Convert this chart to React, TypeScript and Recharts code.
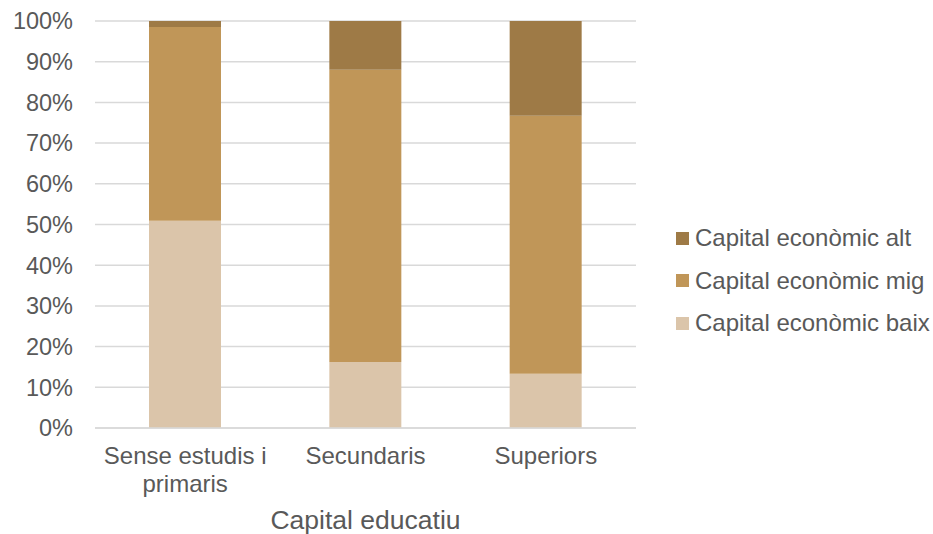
import React from "react";
import { BarChart, Bar, XAxis, YAxis, CartesianGrid } from "recharts";

const categories = ["Sense estudis i primaris", "Secundaris", "Superiors"];
const baix = [50.9, 16.2, 13.3];
const mig = [47.6, 71.8, 63.4];
const alt = [1.5, 12.0, 23.3];
const yTicks = [0, 10, 20, 30, 40, 50, 60, 70, 80, 90, 100];

const seriesNames = {
  alt: "Capital econòmic alt",
  mig: "Capital econòmic mig",
  baix: "Capital econòmic baix",
};
const colors = { alt: "#9E7A46", mig: "#C09658", baix: "#DBC5AA" };

const data = categories.map((c, i) => ({ name: c, baix: baix[i], mig: mig[i], alt: alt[i] }));

const FONT = "'Liberation Sans', Arial, sans-serif";
const TEXT_COLOR = "#595959";

function wrapWords(s: string, maxChars: number): string[] {
  const words = s.split(" ");
  const lines: string[] = [];
  let cur = "";
  for (const w of words) {
    const next = cur ? cur + " " + w : w;
    if (next.length > maxChars && cur) {
      lines.push(cur);
      cur = w;
    } else {
      cur = next;
    }
  }
  if (cur) lines.push(cur);
  return lines;
}

const XTick = (props: any) => {
  const { x, y, payload } = props;
  const lines = wrapWords(String(payload.value), 16);
  return (
    <text x={x} y={y} textAnchor="middle" fontSize={24} fontFamily={FONT} fill={TEXT_COLOR}>
      {lines.map((l, i) => (
        <tspan key={i} x={x} dy={28}>
          {l}
        </tspan>
      ))}
    </text>
  );
};

const LegendBox = () => {
  const order: ("alt" | "mig" | "baix")[] = ["alt", "mig", "baix"];
  return (
    <div
      style={{
        position: "absolute",
        left: 676,
        top: 217,
        fontFamily: FONT,
        fontSize: 24,
        color: TEXT_COLOR,
        whiteSpace: "nowrap",
      }}
    >
      {order.map((k) => (
        <div key={k} style={{ display: "flex", alignItems: "center", height: 42.5 }}>
          <span style={{ display: "inline-block", width: 13, height: 13, background: colors[k], marginRight: 6 }} />
          <span>{seriesNames[k]}</span>
        </div>
      ))}
    </div>
  );
};

export default function App() {
  return (
    <div style={{ position: "absolute", left: 0, top: 0, width: 933, height: 534, background: "#fff" }}>
      <BarChart
        width={933}
        height={534}
        data={data}
        margin={{ top: 21, right: 297, bottom: 0, left: 0 }}
        barSize={72}
      >
        <CartesianGrid vertical={false} stroke="#D9D9D9" strokeWidth={1.5} />
        <XAxis
          dataKey="name"
          tickLine={false}
          axisLine={{ stroke: "#D9D9D9", strokeWidth: 1.5 }}
          height={106}
          interval={0}
          tick={<XTick />}
          label={{
            value: "Capital educatiu",
            position: "insideBottom",
            offset: 5,
            fontSize: 26.5,
            fontFamily: FONT,
            fill: TEXT_COLOR,
          }}
        />
        <YAxis
          domain={[0, 100]}
          ticks={yTicks}
          interval={0}
          tickFormatter={(v: number) => `${v}%`}
          tickLine={false}
          axisLine={false}
          width={95}
          tickMargin={16}
          tick={{ fontSize: 23.5, fontFamily: FONT, fill: TEXT_COLOR }}
        />
        <Bar dataKey="baix" stackId="a" fill={colors.baix} isAnimationActive={false} />
        <Bar dataKey="mig" stackId="a" fill={colors.mig} isAnimationActive={false} />
        <Bar dataKey="alt" stackId="a" fill={colors.alt} isAnimationActive={false} />
      </BarChart>
      <LegendBox />
    </div>
  );
}
